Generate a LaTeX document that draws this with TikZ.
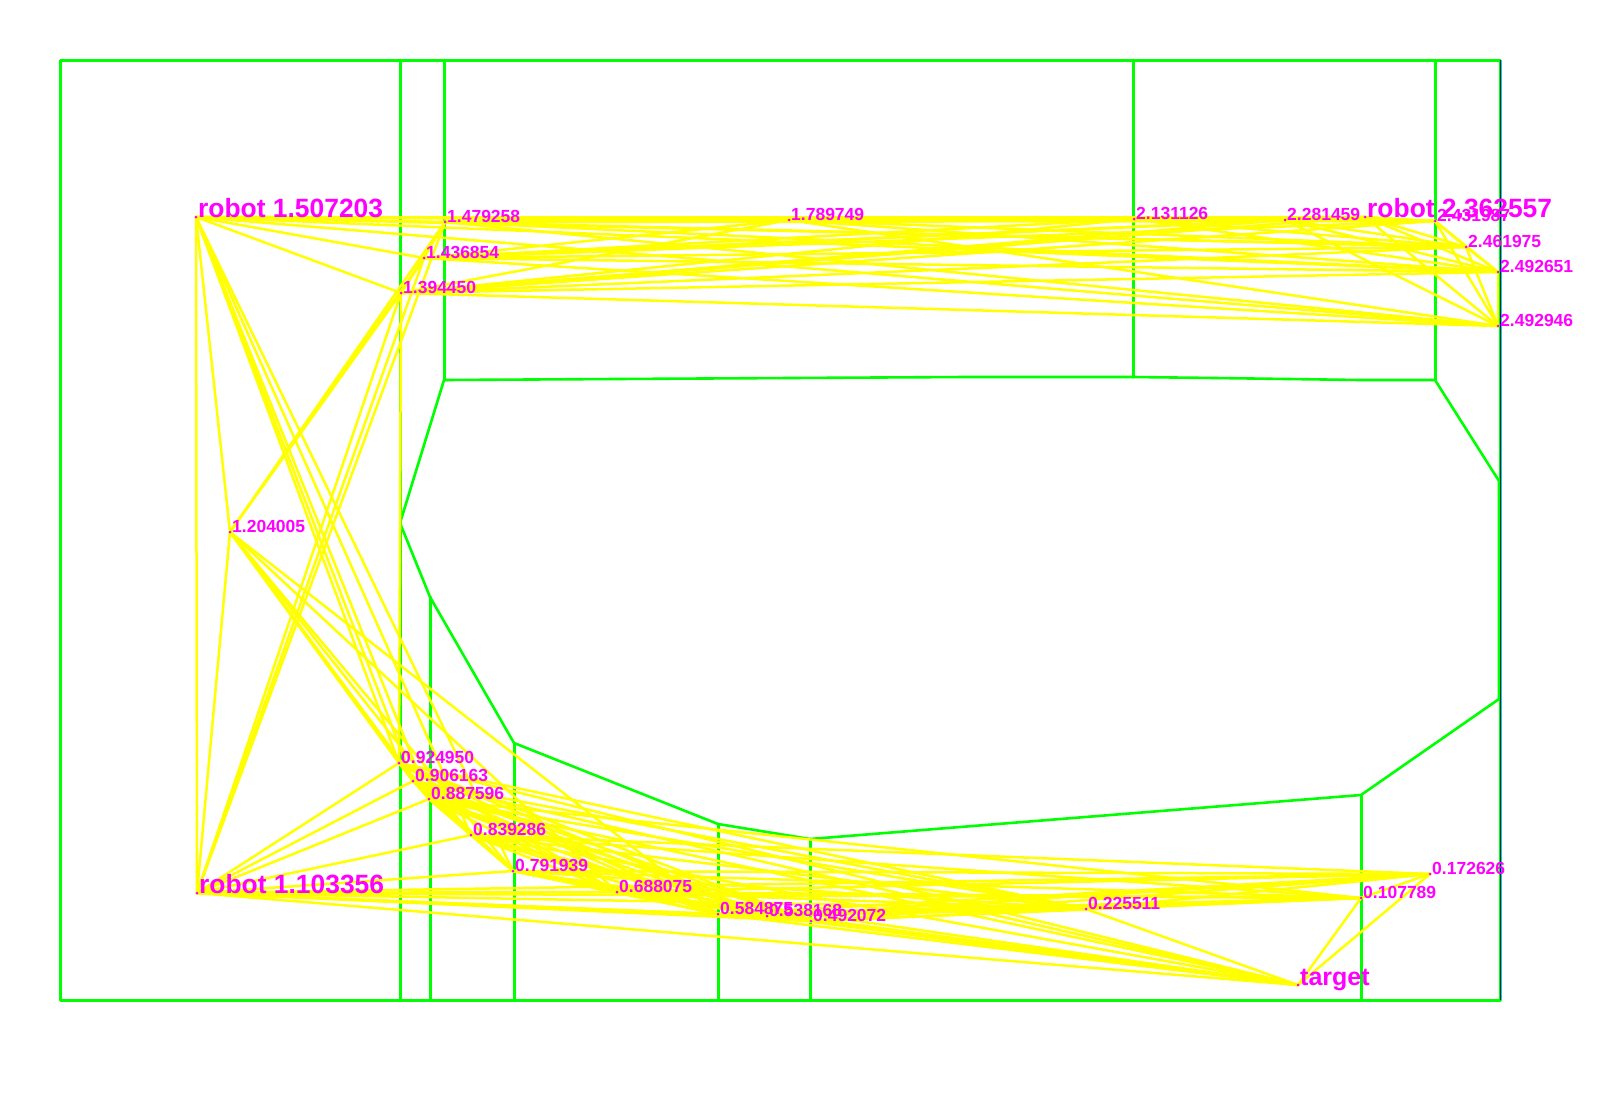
\documentclass[tikz,border=0pt]{standalone}
\usepackage{fontspec}
\setmainfont{Liberation Sans}
\definecolor{gr}{RGB}{0,255,0}
\definecolor{ye}{RGB}{255,255,0}
\definecolor{ma}{RGB}{255,0,255}
\definecolor{bl}{RGB}{0,0,255}
\tikzset{
  wall/.style={draw=gr,line width=3pt,line cap=round,line join=round},
  slant/.style={draw=gr,line width=2.6pt,line cap=round,line join=round},
  edge/.style={draw=ye,line width=2.5pt,line cap=round},
  small/.style={text=ma,inner sep=0pt,anchor=base west,font=\fontsize{17.5}{18}\selectfont\bfseries},
  big/.style={text=ma,inner sep=0pt,anchor=base west,font=\fontsize{26.4}{27}\selectfont\bfseries},
  tick/.style={fill=ma,draw=none,circle,minimum size=3pt,inner sep=0pt}
}
\begin{document}
\begin{tikzpicture}[x=1pt,y=-1pt]
\useasboundingbox[fill=white] (0,0) rectangle (1600,1100);
% walls
\coordinate (o1) at (60,60); \coordinate (o2) at (1500,60);
\coordinate (o3) at (1500,1000); \coordinate (o4) at (60,1000);
\foreach \x/\ya/\yb in {400/60/1000,444/60/380,1133/60/377,1435/60/380,430/597/1000,514/743/1000,718/824/1000,810/839/1000,1361/795/1000}
  \draw[wall] (\x,\ya) -- (\x,\yb);
\draw[slant] (444,380) -- (617,379) -- (965,377) -- (1133,377) -- (1215,378) -- (1360,380) -- (1435,380)
  -- (1499,481) -- (1499,699) -- (1361,795) -- (810,839) -- (718,824) -- (514,743) -- (430,597) -- (400,523) -- cycle;
\draw[wall] (o1) -- (o2) -- (o3) -- (o4) -- cycle;
\draw[bl,line width=1pt] (1500.7,60) -- (1500.7,1000);
% waypoints
\foreach \n/\x/\y in {
  ra/196/217, ga/445/222, gb/424/258, gc/401/293, ta/789/220, tb/1134/219, tc/1285/220, rb/1365/217,
  td/1435/221, te/1466/247, tf/1498/272, tg/1498/326, mi/230/532, rc/197/893,
  a/399/763, b/413/781, c/429/799, d/471/835, e/513/871, f/617/892, g/718/914, h/767/916, i/811/921,
  j/1086/909, k/1361/898, l/1430/874, t/1298/985}
  \coordinate (\n) at (\x,\y);
% edges: top corridor, all pairs but one
\foreach \p [count=\i] in {ra,ga,gb,gc,ta,tb,tc,rb,td,te,tf,tg}
  \foreach \q [count=\j] in {ra,ga,gb,gc,ta,tb,tc,rb,td,te,tf,tg}
    {\ifnum\i<\j
       \edef\pair{\p\q}\def\skipa{tbtg}%
       \ifx\pair\skipa\else \draw[edge] (\p) -- (\q); \fi
     \fi}
% left column
\foreach \p/\q in {ra/mi,ra/rc,mi/rc,mi/ga,mi/gb,mi/gc,rc/ga,rc/gb,rc/gc,gc/a,
  ra/a,ra/b,ra/c,ra/d,ra/e,
  mi/a,mi/b,mi/c,mi/d,mi/e,mi/f,mi/g}
  \draw[edge] (\p) -- (\q);
% robot at lower left sees all of the lower corridor
\foreach \q in {a,b,c,d,e,f,g,h,i,j,k,l,t}
  \draw[edge] (rc) -- (\q);
% lower corridor, pairs
\foreach \p [count=\i] in {a,b,c,d,e,f,g,h,i,j,k,l,t}
  \foreach \q [count=\j] in {a,b,c,d,e,f,g,h,i,j,k,l,t}
    {\ifnum\i<\j
       \edef\pair{\p\q}%
       \def\skipa{ak}\def\skipb{al}\def\skipc{bk}\def\skipd{bl}\def\skipe{cl}%
       \ifx\pair\skipa\else\ifx\pair\skipb\else\ifx\pair\skipc\else\ifx\pair\skipd\else\ifx\pair\skipe\else
         \draw[edge] (\p) -- (\q);
       \fi\fi\fi\fi\fi
     \fi}
% labels
\foreach \n in {ra,ga,gb,gc,ta,tb,tc,rb,td,te,tf,tg,mi,rc,a,b,c,d,e,f,g,h,i,j,k,l,t}
  \node[tick] (dot\n) at (\n) {};
\node[big,xshift=2pt] (lra) at (ra) {robot 1.507203};
\node[big,xshift=2pt] (lrb) at (rb) {robot 2.362557};
\node[big,xshift=2pt] (lrc) at (rc) {robot 1.103356};
\node[big,xshift=2pt] (lt) at (t) {\fontsize{25}{26}\selectfont target};
\foreach \n/\s in {ga/1.479258,gb/1.436854,gc/1.394450,ta/1.789749,tb/2.131126,tc/2.281459,td/2.431987,te/2.461975,tf/2.492651,tg/2.492946,mi/1.204005,a/0.924950,b/0.906163,c/0.887596,d/0.839286,e/0.791939,f/0.688075,g/0.584875,h/0.538168,i/0.492072,j/0.225511,k/0.107789,l/0.172626}
  \node[small,xshift=2pt] (l\n) at (\n) {\s};
\end{tikzpicture}
\end{document}
